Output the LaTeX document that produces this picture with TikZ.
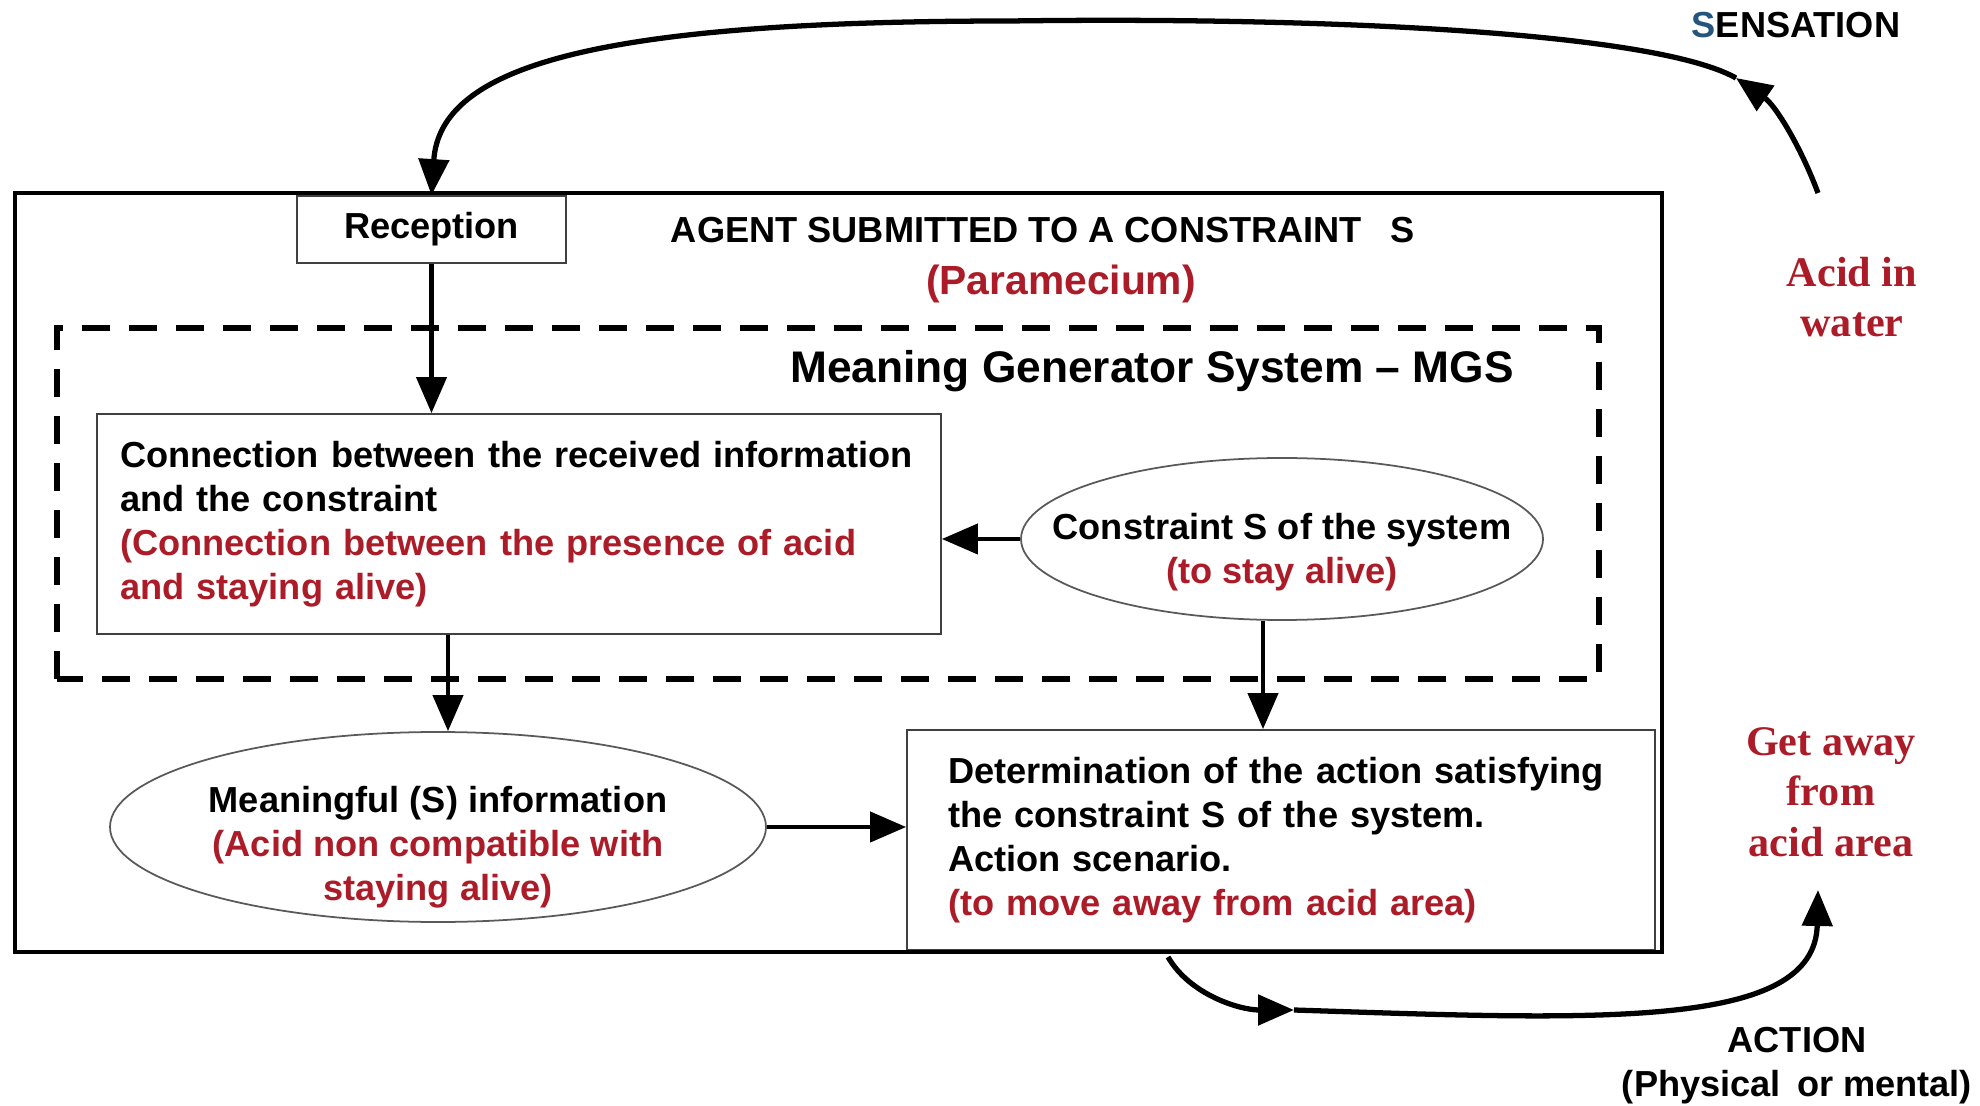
\documentclass[tikz,border=0pt]{standalone}
\usepackage{fontspec}
\setmainfont{Liberation Sans}
\newfontfamily\labelserif{Liberation Serif}
\usetikzlibrary{shapes.geometric,arrows.meta,positioning}
\definecolor{acidred}{RGB}{172,28,40}
\definecolor{sensblue}{RGB}{35,85,125}

\begin{document}
\begin{tikzpicture}[
		txt/.style={font=\fontsize{10.3}{12.5}\selectfont\bfseries},
		sidelabel/.style={font=\labelserif\fontsize{12}{14.4}\selectfont\bfseries,text=acidred,align=center},
		thinbox/.style={draw=black!75,line width=0.5pt,rectangle,fill=white,inner ysep=0pt},
		bubble/.style={draw=black!65,line width=0.5pt,ellipse,inner sep=0pt,align=center},
		arr/.style={line width=1.2pt,-{Triangle[length=3.6mm,width=3mm]}},
		bigarr/.style={line width=1.5pt,-{Triangle[length=3.6mm,width=3mm]}}]
		\useasboundingbox (0,0) rectangle (19.8,11.05);
		\coordinate (acid_start) at (18.18,9.12);
		\coordinate (sens_mid) at (17.36,10.27);
		\coordinate (sens_top) at (10.1,10.84);
		\coordinate (act_start) at (11.68,1.48);
		\coordinate (act_mid) at (12.94,0.95);
		\coordinate (away_end) at (18.18,2.15);
	
		% agent and MGS frames
		\draw[dash pattern=on 0.28cm off 0.19cm,line width=1.7pt] (0.57,4.26) rectangle (15.99,7.77);
		\node[thinbox,txt,minimum width=7.48cm,minimum height=2.2cm,inner xsep=0.41cm,text width=6.66cm,align=left] (det) at (12.81,2.65) {Determination of the action satisfying\\the constraint S of the system.\\Action scenario.\\\textcolor{acidred}{(to move away from acid area)}};
		\draw[line width=1.4pt] (0.15,1.53) rectangle (16.62,9.12);
	
		\node[thinbox,txt,minimum width=2.69cm,minimum height=0.67cm] (rec) at (4.315,8.755) {Reception};
		\node[txt] (agent) at (10.43,8.75) {AGENT SUBMITTED TO A CONSTRAINT\hspace{0.8em}S};
		\node[txt,font=\fontsize{11.6}{14}\selectfont\bfseries,text=acidred] (para) at (10.61,8.21) {(Paramecium)};
		\node[font=\fontsize{12.6}{15}\selectfont\bfseries] (mgs) at (11.52,7.34) {Meaning Generator System -- MGS};
		\node[thinbox,txt,minimum width=8.44cm,minimum height=2.2cm,inner xsep=0.23cm,text width=7.98cm,align=left] (conn) at (5.19,5.81) {Connection between the received information\\and the constraint\\\textcolor{acidred}{(Connection between the presence of acid}\\\textcolor{acidred}{and staying alive)}};
		\node[bubble,txt,inner xsep=-0.5cm,minimum width=5.22cm,minimum height=1.62cm] (cons) at (12.82,5.66) {\rule{0pt}{0.52cm}Constraint S of the system\\\textcolor{acidred}{(to stay alive)}};
		\node[bubble,txt,inner ysep=-0.2cm,minimum width=6.56cm,minimum height=1.9cm] (mean) at (4.38,2.78) {\rule{0pt}{0.66cm}Meaningful (S) information\\\textcolor{acidred}{(Acid non compatible with}\\\textcolor{acidred}{staying alive)}};
	
		\draw[arr] (rec.south) -- (rec.south |- conn.north);
		\draw[arr] (cons.west) -- (cons.west -| conn.east);
		\draw[arr] ([xshift=1mm]mean.north |- conn.south) -- ([xshift=1mm]mean.north);
		\draw[arr] ([xshift=-1.9mm]cons.south) -- ([xshift=-1.9mm]cons.south |- det.north);
		\draw[arr] (mean.east) -- (mean.east -| det.west);
	
		% outside: sensation and action loops
		\node[txt] (sens) at (17.96,10.80) {\textcolor{sensblue}{S}ENSATION};
		\node[sidelabel] (acid) at (18.52,8.08) {Acid in\\water};
		\node[sidelabel] (away) at (18.31,3.13) {Get away\\from\\acid area};
		\node[txt,align=center] (act) at (17.97,0.39) {ACTION\\(Physical\, or mental)};
		\draw[bigarr] (acid_start) .. controls (18.0,9.6) and (17.75,10.0) .. (sens_mid);
		\draw[bigarr] (sens_mid) .. controls (16.5,10.75) and (13.0,10.88) .. (sens_top) .. controls (6.0,10.84) and (4.4,10.4) .. (rec.north);
		\draw[bigarr] (act_start) .. controls (11.9,1.1) and (12.4,0.95) .. (act_mid);
		\draw[bigarr] (act_mid) .. controls (16.0,0.85) and (18.15,0.75) .. (away_end);
	\end{tikzpicture}
\end{document}
